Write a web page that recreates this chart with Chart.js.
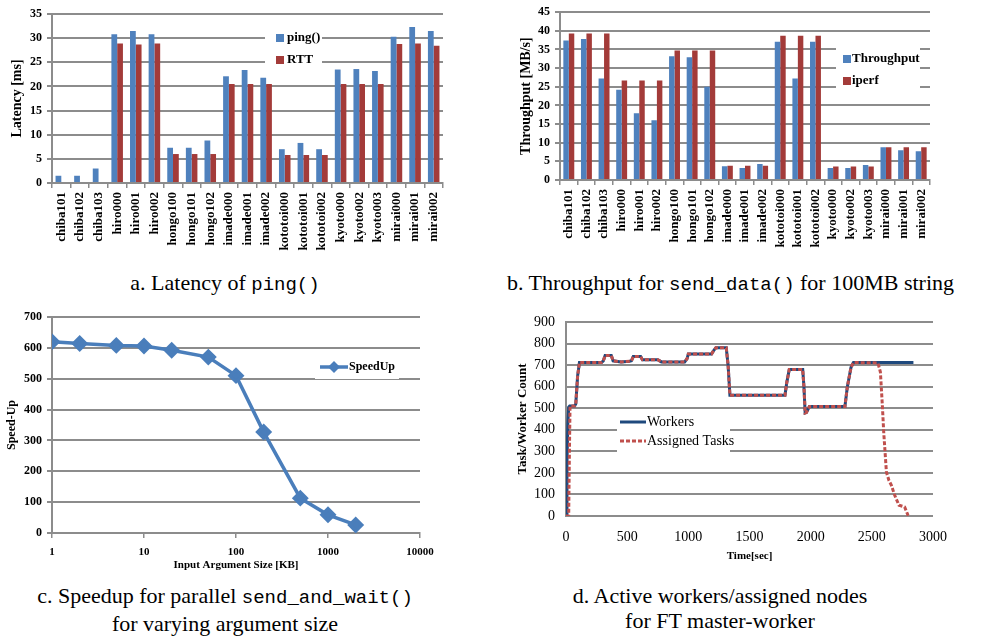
<!DOCTYPE html>
<html lang="en">
<head>
<meta charset="UTF-8">
<title>Benchmarks</title>
<script src="https://cdn.jsdelivr.net/npm/chart.js"></script>
<style>
    body { margin: 0; background: #fff; width: 1001px; height: 641px; overflow: hidden; position: relative; }
    canvas { position: absolute; }
    .cap { position: absolute; text-align: center; font-family: "Times New Roman", "Liberation Serif", "DejaVu Serif", serif; font-size: 22px; color: #000; line-height: 25px; white-space: nowrap; }
    .cap code { font-family: "Liberation Mono", "DejaVu Sans Mono", monospace; font-size: 19px; }
</style>
</head>
<body>
<canvas id="latChart" width="460" height="260" style="left:0;top:0"></canvas>
<canvas id="thrChart" width="450" height="260" style="left:500px;top:0"></canvas>
<canvas id="spdChart" width="450" height="280" style="left:0;top:300px"></canvas>
<canvas id="ftChart" width="460" height="270" style="left:500px;top:300px"></canvas>

<div class="cap" style="left:0;width:450px;top:270px">a. Latency of <code>ping()</code></div>
<div class="cap" style="left:460px;width:541px;top:270px">b. Throughput for <code>send_data()</code> for 100MB string</div>
<div class="cap" style="left:0;width:450px;top:583px">c. Speedup for parallel <code>send_and_wait()</code><br>for varying argument size</div>
<div class="cap" style="left:490px;width:460px;top:583px">d. Active workers/assigned nodes<br>for FT master-worker</div>

<script>
// hosts shared by charts a and b
const hosts = ['chiba101', 'chiba102', 'chiba103', 'hiro000', 'hiro001', 'hiro002',
    'hongo100', 'hongo101', 'hongo102', 'imade000', 'imade001', 'imade002',
    'kototoi000', 'kototoi001', 'kototoi002', 'kyoto000', 'kyoto002', 'kyoto003',
    'mirai000', 'mirai001', 'mirai002'];

// a. latency [ms]
const pingMs = [1.5, 1.5, 3.0, 30.8, 31.5, 30.8, 7.3, 7.3, 8.8, 22.1, 23.4, 21.8,
    7.0, 8.3, 7.0, 23.5, 23.6, 23.2, 30.3, 32.3, 31.5];
const rttMs = [0, 0, 0, 28.9, 28.7, 28.9, 6.0, 6.0, 6.0, 20.5, 20.5, 20.5,
    5.8, 5.8, 5.8, 20.5, 20.5, 20.5, 28.8, 28.9, 28.4];

// b. throughput [MB/s]
const thrMBs = [37.4, 37.8, 27.2, 24.2, 17.9, 16.0, 33.2, 32.9, 25.0, 3.7, 3.2, 4.3,
    37.1, 27.2, 37.1, 3.2, 3.2, 4.0, 8.8, 8.0, 7.7];
const iperfMBs = [39.3, 39.3, 39.3, 26.7, 26.7, 26.7, 34.7, 34.7, 34.7, 3.8, 3.8, 3.85,
    38.7, 38.7, 38.7, 3.6, 3.6, 3.6, 8.8, 8.8, 8.8];

// c. speedup vs argument size [KB]
const argSizeKB = [1, 2, 5, 10, 20, 50, 100, 200, 500, 1000, 2000];
const speedUp = [620, 614, 608, 606, 592, 570, 510, 327, 113, 59, 26];
const sizeTicks = [1, 10, 100, 1000, 10000];

// d. workers / assigned tasks over time [sec]
const midT = [70, 80, 95, 110, 290, 305, 320, 370, 385, 450, 520, 535, 550, 610, 625, 750, 780,
    970, 990, 1000, 1190, 1210, 1225, 1310, 1325, 1340, 1790, 1805, 1825, 1935, 1945, 1955,
    1965, 1990, 2280, 2300, 2330, 2350];
const midN = [510, 520, 650, 712, 712, 720, 745, 745, 720, 715, 718, 720, 740, 740, 725, 725, 715,
    715, 730, 752, 752, 770, 780, 780, 700, 560, 560, 620, 680, 680, 600, 478,
    480, 508, 508, 600, 690, 712];
const workerStartT = [0, 8, 15, 22, 30];
const workerStartN = [0, 250, 430, 505, 510];
const workerEndT = [2840];
const workerEndN = [712];
const taskStartT = [0, 22, 28, 33];
const taskStartN = [0, 0, 300, 510];
const taskEndT = [2550, 2570, 2586, 2597, 2619, 2640, 2660, 2687, 2722, 2768, 2796, 2810];
const taskEndN = [710, 668, 513, 390, 204, 165, 142, 96, 50, 42, 3, 0];

const BLUE = '#4F81BD';
const RED = '#A33B39';
const NAVY = '#1F497D';
const TASKRED = '#C0504D';
const GRID = '#8c8c8c';
const SERIF = '"Times New Roman", "Liberation Serif", "DejaVu Serif", serif';

function pts(xs, ys) {
    return xs.map((x, i) => ({ x: x, y: ys[i] }));
}

// white legend box drawn inside the plot, like the spreadsheet charts
const boxLegend = {
    id: 'boxLegend',
    afterDatasetsDraw(chart, args, o) {
        if (!o || o.x === undefined) return;
        const ctx = chart.ctx;
        ctx.save();
        ctx.fillStyle = '#fff';
        ctx.fillRect(o.x, o.y, o.w, o.h);
        ctx.font = o.font;
        ctx.textBaseline = 'middle';
        chart.data.datasets.forEach((ds, i) => {
            const y = o.first + i * o.gap;
            if (o.kind === 'box') {
                ctx.fillStyle = ds.backgroundColor;
                ctx.fillRect(o.x + o.markX, y - 4, 8, 8);
            } else {
                ctx.strokeStyle = ds.borderColor;
                ctx.lineWidth = ds.borderWidth;
                ctx.setLineDash(ds.borderDash || []);
                ctx.beginPath();
                ctx.moveTo(o.x + o.markX, y);
                ctx.lineTo(o.x + o.markX + o.lineLen, y);
                ctx.stroke();
                ctx.setLineDash([]);
                if (ds.pointRadius) {
                    const cx = o.x + o.markX + o.lineLen / 2, r = ds.pointRadius;
                    ctx.fillStyle = ds.borderColor;
                    ctx.beginPath();
                    ctx.moveTo(cx, y - r); ctx.lineTo(cx + r, y); ctx.lineTo(cx, y + r); ctx.lineTo(cx - r, y);
                    ctx.closePath();
                    ctx.fill();
                }
            }
            ctx.fillStyle = '#000';
            ctx.fillText(ds.label, o.x + o.textX, y);
        });
        ctx.restore();
    }
};
Chart.register(boxLegend);

const bold = size => ({ family: SERIF, weight: 'bold', size: size });
const plain = size => ({ family: SERIF, size: size });

function barOptions(yMax, yTitle, titlePad, yWidth, pad, xHeight, legend) {
    return {
        responsive: false,
        animation: false,
        layout: { padding: pad },
        datasets: { bar: { categoryPercentage: 0.62, barPercentage: 1.0 } },
        plugins: { legend: { display: false }, tooltip: { enabled: false }, boxLegend: legend },
        scales: {
            x: {
                grid: { drawOnChartArea: false, offset: true, tickLength: 5, color: GRID, lineWidth: 1.5 },
                border: { color: GRID, width: 2 },
                ticks: { minRotation: 90, maxRotation: 90, autoSkip: false, font: bold(13), color: '#000', padding: 4 },
                afterFit: s => { s.height = xHeight; }
            },
            y: {
                min: 0, max: yMax,
                grid: { color: GRID, lineWidth: 2, tickLength: 5 },
                border: { color: GRID, width: 2 },
                ticks: { stepSize: 5, font: bold(12), color: '#000', padding: 5 },
                title: { display: true, text: yTitle, font: bold(14), color: '#000', padding: { top: titlePad, bottom: 0 } },
                afterFit: s => { s.width = yWidth; }
            }
        }
    };
}

// a. Latency
new Chart(document.getElementById('latChart'), {
    type: 'bar',
    data: {
        labels: hosts,
        datasets: [
            { label: 'ping()', data: pingMs, backgroundColor: BLUE },
            { label: 'RTT', data: rttMs, backgroundColor: RED }
        ]
    },
    options: barOptions(35, 'Latency [ms]', 9, 52, { top: 14, right: 17, left: 0, bottom: 0 }, 77,
        { kind: 'box', x: 265, y: 28, w: 57, h: 42, first: 38, gap: 22, markX: 11, textX: 22, font: 'bold 13px ' + SERIF })
});

// b. Throughput
new Chart(document.getElementById('thrChart'), {
    type: 'bar',
    data: {
        labels: hosts,
        datasets: [
            { label: 'Throughput', data: thrMBs, backgroundColor: BLUE },
            { label: 'iperf', data: iperfMBs, backgroundColor: RED }
        ]
    },
    options: barOptions(45, 'Throughput [MB/s]', 18, 60, { top: 5, right: 20, left: 0, bottom: 0 }, 80,
        { kind: 'box', x: 336, y: 48, w: 84, h: 42, first: 59, gap: 22, markX: 7, textX: 16, font: 'bold 13px ' + SERIF })
});

// c. Speedup
new Chart(document.getElementById('spdChart'), {
    type: 'line',
    data: {
        datasets: [{
            label: 'SpeedUp', data: pts(argSizeKB, speedUp),
            borderColor: '#4A7EBB', backgroundColor: '#4A7EBB', borderWidth: 3.5,
            pointStyle: 'rectRot', pointRadius: 6, tension: 0
        }]
    },
    options: {
        responsive: false,
        animation: false,
        layout: { padding: { top: 17, right: 30, left: 0, bottom: 0 } },
        plugins: {
            legend: { display: false }, tooltip: { enabled: false },
            boxLegend: { kind: 'line', x: 315, y: 57, w: 84, h: 22, first: 67, gap: 20, markX: 5, lineLen: 28, textX: 34, font: 'bold 12px ' + SERIF }
        },
        scales: {
            x: {
                type: 'logarithmic', min: 1, max: 10000,
                afterBuildTicks: s => { s.ticks = sizeTicks.map(v => ({ value: v })); },
                grid: { drawOnChartArea: false, tickLength: 5, color: GRID, lineWidth: 1.5 },
                border: { color: GRID, width: 2 },
                ticks: { font: bold(11), color: '#000', padding: 8, maxRotation: 0, callback: v => String(v) },
                title: { display: true, text: 'Input Argument Size [KB]', font: bold(11), color: '#000', padding: { top: 0, bottom: 8 } },
                afterFit: s => { s.height = 47; }
            },
            y: {
                min: 0, max: 700,
                grid: { color: GRID, lineWidth: 2, tickLength: 5 },
                border: { color: GRID, width: 2 },
                ticks: { stepSize: 100, font: bold(12), color: '#000', padding: 5 },
                title: { display: true, text: 'Speed-Up', font: bold(12), color: '#000', padding: { top: 5, bottom: 0 } },
                afterFit: s => { s.width = 52; }
            }
        }
    }
});

// d. FT master-worker
new Chart(document.getElementById('ftChart'), {
    type: 'line',
    data: {
        datasets: [
            {
                label: 'Workers', data: pts(workerStartT.concat(midT, workerEndT), workerStartN.concat(midN, workerEndN)),
                borderColor: NAVY, borderWidth: 3, pointRadius: 0, tension: 0, order: 1
            },
            {
                label: 'Assigned Tasks', data: pts(taskStartT.concat(midT, taskEndT), taskStartN.concat(midN, taskEndN)),
                borderColor: TASKRED, borderWidth: 3, borderDash: [4, 2], pointRadius: 0, tension: 0, order: 0
            }
        ]
    },
    options: {
        responsive: false,
        animation: false,
        layout: { padding: { top: 22, right: 27, left: 0, bottom: 0 } },
        plugins: {
            legend: { display: false }, tooltip: { enabled: false },
            boxLegend: { kind: 'line', x: 117, y: 110, w: 113, h: 42, first: 122, gap: 19, markX: 3, lineLen: 26, textX: 30, font: '14px ' + SERIF }
        },
        scales: {
            x: {
                type: 'linear', min: 0, max: 3000,
                grid: { display: false },
                border: { display: false },
                ticks: { stepSize: 500, font: plain(14), color: '#000', padding: 5, maxRotation: 0, callback: v => String(v) },
                title: { display: true, text: 'Time[sec]', font: bold(11), color: '#000', padding: { top: 0, bottom: 7 } },
                afterFit: s => { s.height = 54; }
            },
            y: {
                min: 0, max: 900,
                grid: { color: GRID, lineWidth: 2, drawTicks: false },
                border: { color: GRID, width: 2 },
                ticks: { stepSize: 100, font: plain(14), color: '#000', padding: 11 },
                title: { display: true, text: 'Task/Worker Count', font: bold(13), color: '#000', padding: { top: 15, bottom: 0 } },
                afterFit: s => { s.width = 66; }
            }
        }
    }
});
</script>
</body>
</html>
